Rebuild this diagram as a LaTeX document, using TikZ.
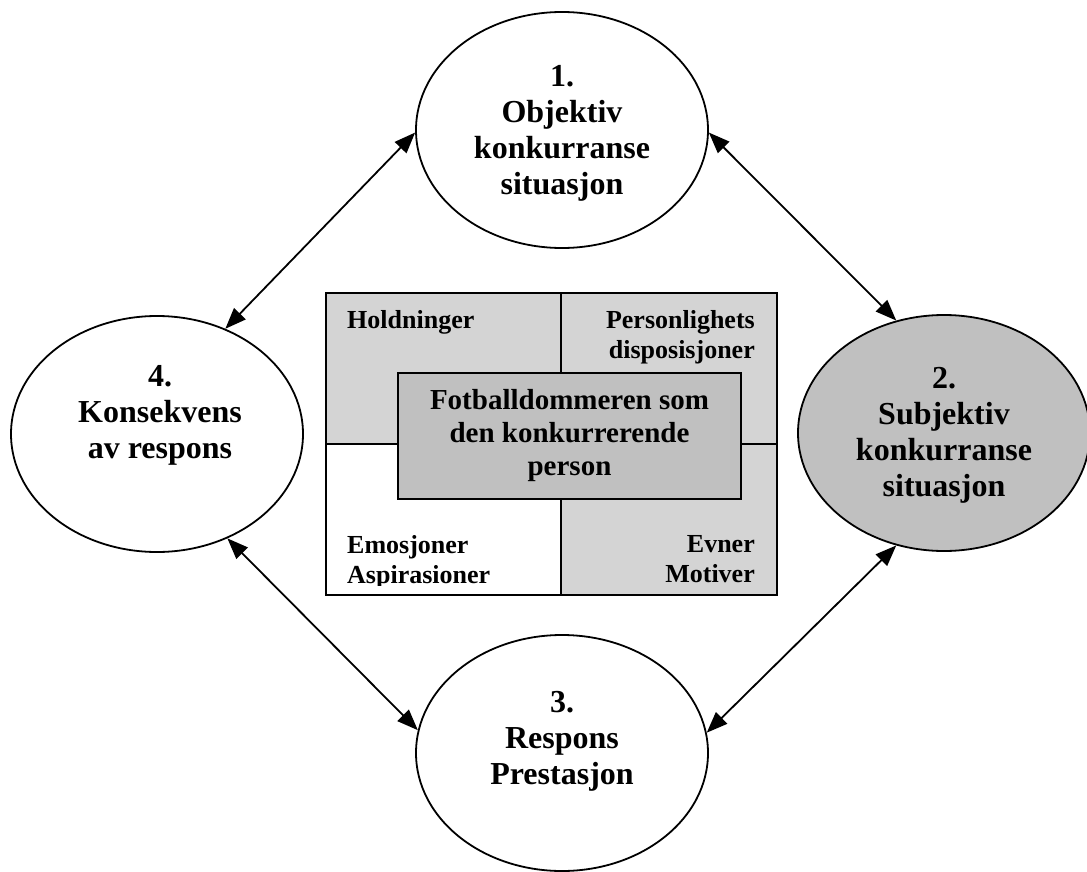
\documentclass[tikz,border=0pt]{standalone}
\usepackage{fontspec}
\setmainfont{Liberation Serif}
\usetikzlibrary{shapes.geometric,arrows.meta}
\definecolor{quadgray}{RGB}{212,212,212}
\definecolor{coregray}{RGB}{192,192,192}
\definecolor{subjgray}{RGB}{192,192,192}
\begin{document}
\begin{tikzpicture}[x=1pt,y=-1pt,
  ell/.style={draw, line width=1.8pt, ellipse, minimum width=292pt, minimum height=236pt, inner sep=0pt},
  elltext/.style={align=center, font=\fontsize{32}{36}\selectfont\bfseries, inner sep=0pt},
  quadtext/.style={font=\fontsize{26}{30}\selectfont\bfseries, inner sep=0pt},
  corebox/.style={draw, line width=2pt, fill=coregray, minimum width=343pt, minimum height=126pt, inner sep=0pt, align=center, font=\fontsize{29}{33}\selectfont\bfseries},
  dbl/.style={line width=1.8pt, {Triangle[length=21pt,width=16pt]}-{Triangle[length=21pt,width=16pt]}},
  frame/.style={line width=2pt}]
\useasboundingbox (0,0) rectangle (1087,872);

% ellipses
\node[ell] (e1) at (562,130) {};
\node[ell, fill=subjgray] (e2) at (944,433) {};
\node[ell] (e3) at (562,753) {};
\node[ell] (e4) at (157,434) {};

\node[elltext] (t1) at (562,133) {1.\\Objektiv\\konkurranse\\situasjon};
\node[elltext] (t2) at (944,435) {2.\\Subjektiv\\konkurranse\\situasjon};
\node[elltext] (t3) at (562,741) {3.\\Respons\\Prestasjon};
\node[elltext] (t4) at (160,415) {4.\\Konsekvens\\av respons};

% central box quadrants
\fill[quadgray] (326,293) rectangle (561,444);
\fill[quadgray] (561,293) rectangle (777,444);
\fill[white] (326,444) rectangle (561,595);
\fill[quadgray] (561,444) rectangle (777,595);
\draw[frame] (561,293) -- (561,595);
\draw[frame] (326,444) -- (777,444);
\draw[frame] (326,293) rectangle (777,595);

\node[quadtext, anchor=west] (hold) at (347,322) {Holdninger};
\node[quadtext, align=right, anchor=east] (pers) at (755,337) {Personlighets\\disposisjoner};
\begin{scope}
  \clip (326,293) rectangle (777,585);
  \node[quadtext, align=left, anchor=west] (emo) at (347,562) {Emosjoner\\Aspirasioner};
  \node[quadtext, align=right, anchor=east] (evn) at (755,559.5) {Evner\\Motiver};
\end{scope}

\node[corebox] (core) at (569.5,436) {Fotballdommeren som\\den konkurrerende\\person};

% connectors
\draw[dbl] (e1.181) -- (e4.57);
\draw[dbl] (e1.359) -- (e2.113);
\draw[dbl] (e2.247) -- (e3.8);
\draw[dbl] (e4.304) -- (e3.171);
\end{tikzpicture}
\end{document}
